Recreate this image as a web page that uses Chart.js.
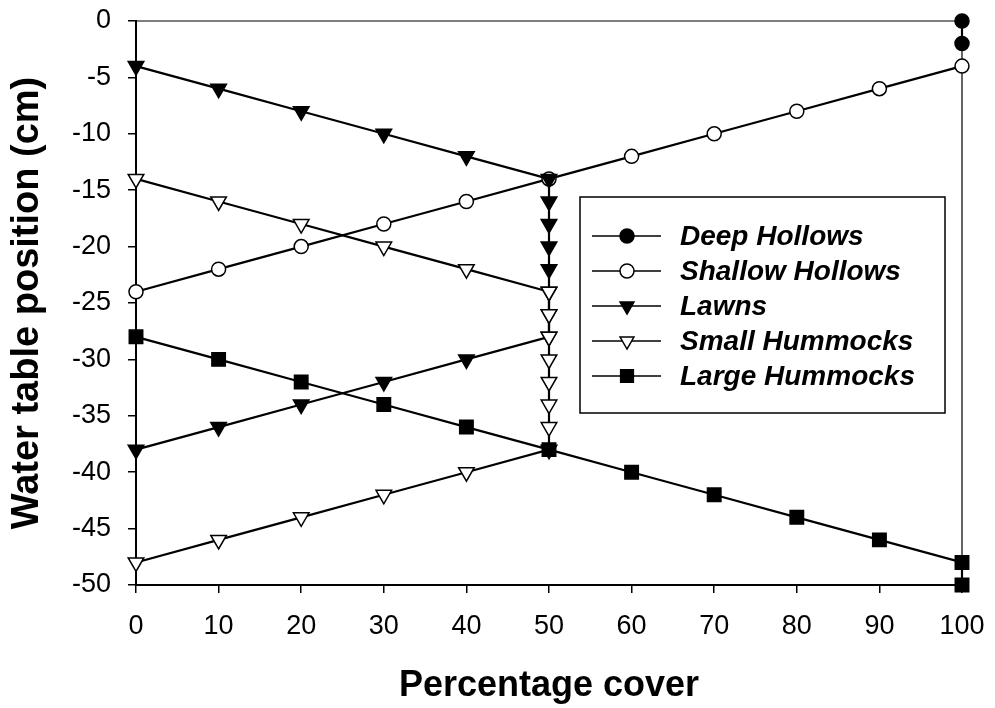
<!DOCTYPE html>
<html>
<head>
<meta charset="utf-8">
<title>Water table position vs percentage cover</title>
<script src="https://cdn.jsdelivr.net/npm/chart.js"></script>
<style>
  html, body { margin: 0; padding: 0; background: #fff; }
  #wrap { width: 995px; height: 708px; }
</style>
</head>
<body>
<div id="wrap"><canvas id="chart" width="995" height="708"></canvas></div>
<script>
// values (x = percentage cover, y = water table position in cm)
const seriesNames = ["Deep Hollows", "Shallow Hollows", "Lawns", "Small Hummocks", "Large Hummocks"];

const deepX = [100, 100];
const deepY = [0, -2];

const shallowX = [0, 10, 20, 30, 40, 50, 60, 70, 80, 90, 100];
const shallowY = [-24, -22, -20, -18, -16, -14, -12, -10, -8, -6, -4];

const lawnsX = [0, 10, 20, 30, 40, 50, 50, 50, 50, 50, 50, 50, 50, 40, 30, 20, 10, 0];
const lawnsY = [-4, -6, -8, -10, -12, -14, -16, -18, -20, -22, -24, -26, -28, -30, -32, -34, -36, -38];

const smallX = [0, 10, 20, 30, 40, 50, 50, 50, 50, 50, 50, 50, 50, 40, 30, 20, 10, 0];
const smallY = [-14, -16, -18, -20, -22, -24, -26, -28, -30, -32, -34, -36, -38, -40, -42, -44, -46, -48];

const largeX = [0, 10, 20, 30, 40, 50, 60, 70, 80, 90, 100, 100];
const largeY = [-28, -30, -32, -34, -36, -38, -40, -42, -44, -46, -48, -50];

const xTicks = [0, 10, 20, 30, 40, 50, 60, 70, 80, 90, 100];
const yTicks = [0, -5, -10, -15, -20, -25, -30, -35, -40, -45, -50];

const FONT = "'Liberation Sans', Arial, Helvetica, sans-serif";

function toPoints(xs, ys) {
  return xs.map((x, i) => ({ x, y: ys[i] }));
}

function makeDataset(label, xs, ys, style, order) {
  return {
    label,
    data: toPoints(xs, ys),
    borderColor: "#000",
    borderWidth: 2.2,
    pointStyle: style.shape,
    pointRotation: style.rotation || 0,
    pointRadius: style.radius,
    pointBackgroundColor: style.fill,
    pointBorderColor: "#000",
    pointBorderWidth: 1.5,
    tension: 0,
    clip: false,
    order,
  };
}

const markerStyles = [
  { shape: "circle", radius: 7, fill: "#000" },
  { shape: "circle", radius: 7, fill: "#fff" },
  { shape: "triangle", rotation: 180, radius: 9, fill: "#000" },
  { shape: "triangle", rotation: 180, radius: 9, fill: "#fff" },
  { shape: "rect", radius: 9.5, fill: "#000" },
];

// draw a marker the same way for the legend
function drawMarker(ctx, style, x, y, r) {
  ctx.save();
  ctx.beginPath();
  if (style.shape === "circle") {
    ctx.arc(x, y, r, 0, Math.PI * 2);
  } else if (style.shape === "triangle") {
    const s = style.rotation === 180 ? -1 : 1;
    ctx.moveTo(x, y - s * r);
    ctx.lineTo(x + r * Math.sin(Math.PI * 2 / 3), y + s * r / 2);
    ctx.lineTo(x - r * Math.sin(Math.PI * 2 / 3), y + s * r / 2);
    ctx.closePath();
  } else {
    const h = r * Math.SQRT1_2;
    ctx.rect(x - h, y - h, h * 2, h * 2);
  }
  ctx.fillStyle = style.fill;
  ctx.fill();
  ctx.lineWidth = 1.5;
  ctx.strokeStyle = "#000";
  ctx.stroke();
  ctx.restore();
}

const frameBox = {
  id: "frameBox",
  beforeDatasetsDraw(chart) {
    const { ctx, chartArea } = chart;
    ctx.save();
    ctx.strokeStyle = "#000";
    ctx.lineWidth = 1.2;
    ctx.beginPath();
    ctx.moveTo(chartArea.left, chartArea.top);
    ctx.lineTo(chartArea.right, chartArea.top);
    ctx.lineTo(chartArea.right, chartArea.bottom);
    ctx.stroke();
    ctx.restore();
  },
};

const boxLegend = {
  id: "boxLegend",
  afterDatasetsDraw(chart) {
    const { ctx } = chart;
    const box = { left: 580, top: 197, right: 945, bottom: 413 };
    const rowTop = 236;
    const rowGap = 35;
    ctx.save();
    ctx.fillStyle = "#fff";
    ctx.fillRect(box.left, box.top, box.right - box.left, box.bottom - box.top);
    ctx.strokeStyle = "#000";
    ctx.lineWidth = 1.5;
    ctx.strokeRect(box.left, box.top, box.right - box.left, box.bottom - box.top);

    chart.data.datasets.forEach((ds, i) => {
      const y = rowTop + i * rowGap;
      ctx.beginPath();
      ctx.moveTo(592, y);
      ctx.lineTo(661, y);
      ctx.lineWidth = 1.5;
      ctx.strokeStyle = "#000";
      ctx.stroke();
      const st = markerStyles[i];
      drawMarker(ctx, st, 627, y, st.shape === "circle" ? 7 : st.shape === "rect" ? 9 : 8);
      ctx.fillStyle = "#000";
      ctx.font = `italic bold 28px ${FONT}`;
      ctx.textAlign = "left";
      ctx.textBaseline = "middle";
      ctx.fillText(ds.label, 680, y + 1);
    });
    ctx.restore();
  },
};

document.addEventListener("DOMContentLoaded", () => {
  const canvas = document.getElementById("chart");

  const datasets = [
    makeDataset(seriesNames[0], deepX, deepY, markerStyles[0], 5),
    makeDataset(seriesNames[1], shallowX, shallowY, markerStyles[1], 4),
    makeDataset(seriesNames[2], lawnsX, lawnsY, markerStyles[2], 3),
    makeDataset(seriesNames[3], smallX, smallY, markerStyles[3], 2),
    makeDataset(seriesNames[4], largeX, largeY, markerStyles[4], 1),
  ];

  new Chart(canvas, {
    type: "line",
    data: { datasets },
    plugins: [frameBox, boxLegend],
    options: {
      responsive: false,
      animation: false,
      layout: { padding: { top: 21, right: 33, left: 0, bottom: 0 } },
      plugins: {
        legend: { display: false },
        tooltip: { enabled: false },
      },
      scales: {
        x: {
          type: "linear",
          min: 0,
          max: 100,
          afterBuildTicks: (scale) => { scale.ticks = xTicks.map((v) => ({ value: v })); },
          afterFit: (scale) => {
            scale.height = 123;
            scale.paddingLeft = 0;
            scale.paddingRight = 0;
          },
          border: { display: true, color: "#000", width: 2 },
          grid: { drawOnChartArea: false, drawTicks: true, tickLength: 8, color: "#000", lineWidth: 1.5 },
          ticks: { color: "#000", padding: 17, maxRotation: 0, font: { family: FONT, size: 27 } },
          title: {
            display: true,
            text: "Percentage cover",
            color: "#000",
            font: { family: FONT, size: 36, weight: "bold" },
            padding: { top: 4, bottom: 0 },
          },
        },
        y: {
          type: "linear",
          min: -50,
          max: 0,
          afterBuildTicks: (scale) => { scale.ticks = yTicks.map((v) => ({ value: v })); },
          afterFit: (scale) => {
            scale.width = 136;
            scale.paddingTop = 0;
            scale.paddingBottom = 0;
          },
          border: { display: true, color: "#000", width: 2 },
          grid: { drawOnChartArea: false, drawTicks: true, tickLength: 8, color: "#000", lineWidth: 1.5 },
          ticks: { color: "#000", padding: 17, font: { family: FONT, size: 27 } },
          title: {
            display: true,
            text: "Water table position (cm)",
            color: "#000",
            font: { family: FONT, size: 38, weight: "bold" },
            padding: { top: 5, bottom: 4 },
          },
        },
      },
    },
  });
});
</script>
</body>
</html>
